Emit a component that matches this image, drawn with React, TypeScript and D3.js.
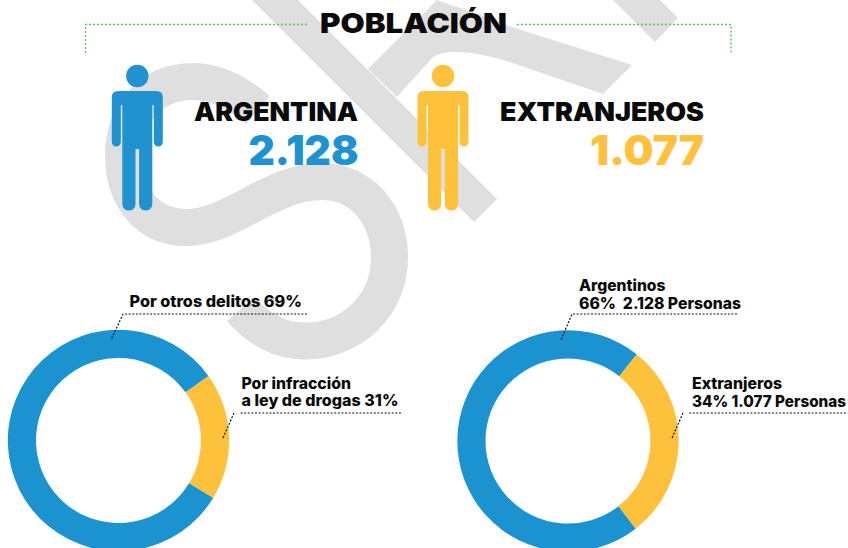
import React from 'react';
import * as d3 from 'd3';

const WIDTH = 848;
const HEIGHT = 548;

const BLUE = '#1c93d1';
const FIGURE_BLUE = '#2192d0';
const YELLOW = '#fec13c';
const GRAY = '#dfdfdf';
const GREEN = '#5cc75c';
const FONT = 'Inter, "Noto Sans", sans-serif';

// population headline
const groupNames = ['ARGENTINA', 'EXTRANJEROS'];
const groupTotals = ['2.128', '1.077'];

// arc shares as they are drawn in the picture (yellow slice first)
const crimeShares = [18.6, 81.4];
const nationShares = [28.9, 71.1];

const ringColors = [YELLOW, BLUE];

const pie = (start: number) =>
  d3.pie<number>().sort(null).startAngle(start).endAngle(start + Math.PI * 2);

const arc = d3.arc<d3.PieArcDatum<number>>().innerRadius(82.5).outerRadius(110.7);

// a standing person, origin at the centre of the head
const personPath = () => {
  const p = d3.path();
  p.moveTo(-25.5, 21);
  p.quadraticCurveTo(-25.5, 15, -18.5, 15);
  p.lineTo(18.5, 15);
  p.quadraticCurveTo(25.5, 15, 25.5, 21);
  p.lineTo(25.5, 66);
  p.arc(21, 66, 4.5, 0, Math.PI);
  p.lineTo(16.5, 29);
  p.lineTo(15, 29);
  p.lineTo(15, 128);
  p.arc(8.4, 128, 6.6, 0, Math.PI);
  p.lineTo(1.8, 73);
  p.lineTo(-1.8, 73);
  p.lineTo(-1.8, 128);
  p.arc(-8.4, 128, 6.6, 0, Math.PI);
  p.lineTo(-15, 29);
  p.lineTo(-16.5, 29);
  p.lineTo(-16.5, 66);
  p.arc(-21, 66, 4.5, 0, Math.PI);
  p.closePath();
  return p.toString();
};

type LabelProps = { x: number; y: number; w: number; size?: number; fill?: string; weight?: number; children: string };

function Label({ x, y, w, size = 15.5, fill = '#0a0a0a', weight = 800, children }: LabelProps) {
  return (
    <text x={x} y={y} fontFamily={FONT} fontSize={size} fontWeight={weight} fill={fill}
      textLength={w} lengthAdjust="spacingAndGlyphs" xmlSpace="preserve">
      {children}
    </text>
  );
}

function Leader({ d }: { d: string }) {
  return <path d={d} fill="none" stroke="#111" strokeWidth={1.2} strokeDasharray="2 1.6" />;
}

function Ring({ cx, cy, shares, start }: { cx: number; cy: number; shares: number[]; start: number }) {
  const slices = pie(start)(shares);
  return (
    <g transform={`translate(${cx},${cy})`}>
      {slices.map((s, i) => (
        <path key={i} d={arc(s) as string} fill={ringColors[i]} />
      ))}
    </g>
  );
}

export default function App() {
  const figure = personPath();
  return (
    <svg width={WIDTH} height={HEIGHT} style={{ position: 'absolute', left: 0, top: 0, background: '#fff' }}>
      {/* watermark */}
      <g fill="none" stroke={GRAY} strokeWidth={37}>
        <path d="M258,110 C238,93 215,81.5 193,81.5 C150,81.5 123.5,115 123.5,155 C123.5,200 150,227.5 186,227.5 C232,227.5 270,181.5 322,181.5 C362,181.5 389.5,215 389.5,258 C389.5,305 352,341 305,341 C280,341 258,329 241,309" />
      </g>
      <g fill={GRAY}>
        <path d="M252,0 L298,0 L497,199 L474,222 Z" />
        <path d="M368,69 L437,0 C460,8 482,15 506,25 L632,65 L603,94 L533,70 C505,60 480,52 455,52 C445,52 438,54 433,57 L397,97 Z" />
        <path d="M613,0 L660,0 L678,18 L655,42 Z" />
      </g>

      {/* title */}
      <path d="M85.5,53 V24.5 H308" fill="none" stroke={GREEN} strokeWidth={1.4} strokeDasharray="2 2" />
      <path d="M517,24.5 H731 V53" fill="none" stroke={GREEN} strokeWidth={1.4} strokeDasharray="2 2" />
      <Label x={320} y={33} w={187} size={27.5} weight={900}>POBLACIÓN</Label>

      {/* people */}
      <g transform="translate(137.3,76)" fill={FIGURE_BLUE}>
        <circle r={11.2} />
        <path d={figure} />
      </g>
      <g transform="translate(443,76)" fill={YELLOW}>
        <circle r={11.2} />
        <path d={figure} />
      </g>
      <Label x={194} y={120.5} w={164} size={26} weight={900}>{groupNames[0]}</Label>
      <Label x={248.5} y={165} w={110} size={41} weight={900} fill={FIGURE_BLUE}>{groupTotals[0]}</Label>
      <Label x={500} y={120.5} w={204} size={26} weight={900}>{groupNames[1]}</Label>
      <Label x={590} y={165} w={114} size={41} weight={900} fill={YELLOW}>{groupTotals[1]}</Label>

      {/* rings */}
      <Ring cx={118.5} cy={440.5} shares={crimeShares} start={(54.3 * Math.PI) / 180} />
      <Ring cx={568} cy={441} shares={nationShares} start={(38.3 * Math.PI) / 180} />

      <Label x={129.5} y={307} w={172.5}>Por otros delitos 69%</Label>
      <Leader d="M307,314 H123 L111,340" />
      <Label x={241.5} y={389} w={109.5}>Por infracción</Label>
      <Label x={241.5} y={406} w={157}>a ley de drogas 31%</Label>
      <Leader d="M401,413 H240 M234,413 L223,438" />

      <Label x={579} y={291} w={86.5}>Argentinos</Label>
      <Label x={579} y={309} w={162}>66%  2.128 Personas</Label>
      <Leader d="M737,314 H572 L561,340" />
      <Label x={692} y={389} w={90}>Extranjeros</Label>
      <Label x={692} y={407} w={154}>34% 1.077 Personas</Label>
      <Leader d="M846,413 H689 M683,413 L672,438" />
    </svg>
  );
}
